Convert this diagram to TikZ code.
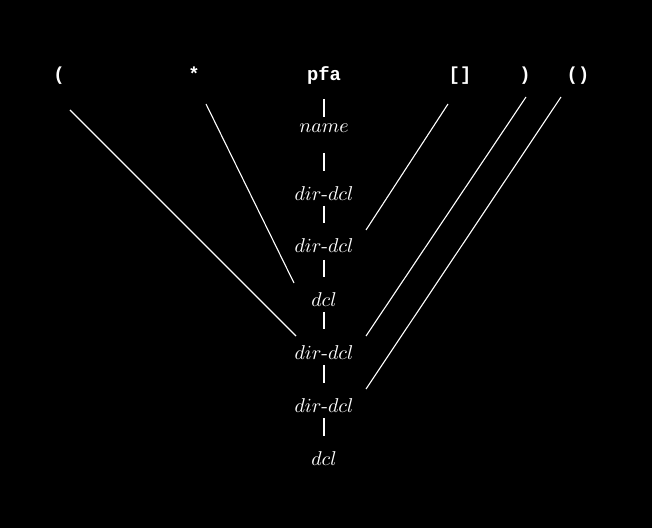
\documentclass[tikz,border=0pt]{standalone}
\usepackage{fontspec}
\newfontfamily\courfont{Liberation Mono}
\begin{document}
\begin{tikzpicture}[x=0.5pt,y=-0.5pt,
  tok/.style={text=white,font=\courfont\bfseries\fontsize{9.4}{10}\selectfont,anchor=base,inner sep=0pt},
  lab/.style={text=white,anchor=base,inner sep=0pt},
  ln/.style={draw=white,line width=0.55pt}]
\fill[black] (0,0) rectangle (652,528);
\useasboundingbox (0,0) rectangle (652,528);
% top tokens
\node[tok] (lp)  at (59,81)  {(};
\node[tok] (st)  at (194,81) {*};
\node[tok] (pfa) at (324,81) {pfa};
\node[tok] (br)  at (460,81) {[]};
\node[tok] (rp)  at (525,81) {)};
\node[tok] (pp)  at (578,81) {()};
% labels
\node[lab] (nm)  at (324,133) {$name$};
\node[lab] (d1)  at (324,201) {$dir\mbox{-}dcl$};
\node[lab] (d2)  at (324,253) {$dir\mbox{-}dcl$};
\node[lab] (c1)  at (324,307) {$dcl$};
\node[lab] (d3)  at (324,360) {$dir\mbox{-}dcl$};
\node[lab] (d4)  at (324,413) {$dir\mbox{-}dcl$};
\node[lab] (c2)  at (324,466) {$dcl$};
% vertical connectors
\begin{scope}[xshift=-0.25pt]
\draw[ln] (pfa |- 0,99)  -- (nm |- 0,117);
\draw[ln] (nm |- 0,153)  -- (d1 |- 0,171);
\draw[ln] (d1 |- 0,206)  -- (d2 |- 0,223);
\draw[ln] (d2 |- 0,260)  -- (c1 |- 0,277);
\draw[ln] (c1 |- 0,312)  -- (d3 |- 0,329);
\draw[ln] (d3 |- 0,365)  -- (d4 |- 0,383);
\draw[ln] (d4 |- 0,418)  -- (c2 |- 0,436);
\end{scope}
% diagonal connectors
\coordinate (lpE) at (70,110);   \coordinate (d3W) at (296,336);
\coordinate (stE) at (206,104);  \coordinate (c1W) at (294,283);
\coordinate (brE) at (448,104);  \coordinate (d2E) at (366,230);
\coordinate (rpE) at (526,97);   \coordinate (d3E) at (366,336);
\coordinate (ppE) at (561,97);   \coordinate (d4E) at (366,389);
\draw[ln] (lpE) -- (d3W);
\draw[ln] (stE) -- (c1W);
\draw[ln] (brE) -- (d2E);
\draw[ln] (rpE) -- (d3E);
\draw[ln] (ppE) -- (d4E);
\end{tikzpicture}
\end{document}
